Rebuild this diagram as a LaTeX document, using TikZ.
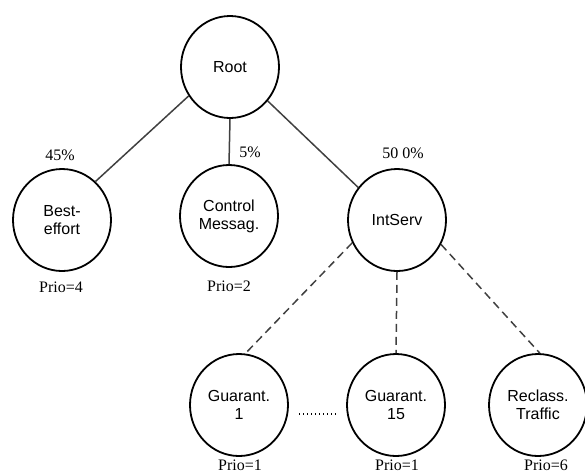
\documentclass[tikz,border=0pt]{standalone}
\usepackage{fontspec}
\setmainfont{Liberation Serif}
\newfontfamily\nodefont{Liberation Sans}
\usetikzlibrary{shapes.geometric}
\begin{document}
\begin{tikzpicture}[x=1pt,y=-1pt,
  cnode/.style={ellipse, draw, line width=1.8pt, minimum width=98pt, minimum height=102pt, inner sep=0pt, align=center, font=\nodefont\fontsize{16}{18}\selectfont},
  lbl/.style={font=\fontsize{16}{18}\selectfont, inner sep=0pt},
  conn/.style={draw=black!75, line width=1.5pt},
  dconn/.style={conn, dash pattern=on 8pt off 5pt},
  dotconn/.style={draw=black, line width=1.1pt, dash pattern=on 1.3pt off 2.7pt},
]
\useasboundingbox (0,0) rectangle (585,475);
\node[cnode] (root) at (230,67) {Root};
\node[cnode] (best) at (62,220) {Best-\\effort};
\node[cnode] (ctrl) at (229,216) {Control\\Messag.};
\node[cnode] (intserv) at (397,220) {IntServ};
\node[cnode] (g1) at (239,405) {Guarant.\\1};
\node[cnode] (g15) at (396,405) {Guarant.\\15};
\node[cnode] (recl) at (538,405) {Reclass.\\Traffic};

\draw[conn] (root.215) -- (best.49);
\draw[conn] (root.south) -- (ctrl.north);
\draw[conn] (root.318) -- (intserv.140);

\draw[dconn] (intserv.207) -- (g1.83);
\draw[dconn] (intserv.south) -- (g15.north);
\draw[dconn] (intserv.331) -- (recl.88);

\coordinate (d1) at (299,414);
\coordinate (d2) at (337,414);
\draw[dotconn] (d1) -- (d2);

\node[lbl] (p45) at (60,155) {45\%};
\node[lbl] (p5) at (250,152) {5\%};
\node[lbl] (p50) at (403,153) {50 0\%};
\node[lbl] (pr4) at (61,287) {Prio=4};
\node[lbl] (pr2) at (229,286) {Prio=2};
\node[lbl] (pr1a) at (240,465) {Prio=1};
\node[lbl] (pr1b) at (397,465) {Prio=1};
\node[lbl] (pr6) at (546,465) {Prio=6};
\end{tikzpicture}
\end{document}
